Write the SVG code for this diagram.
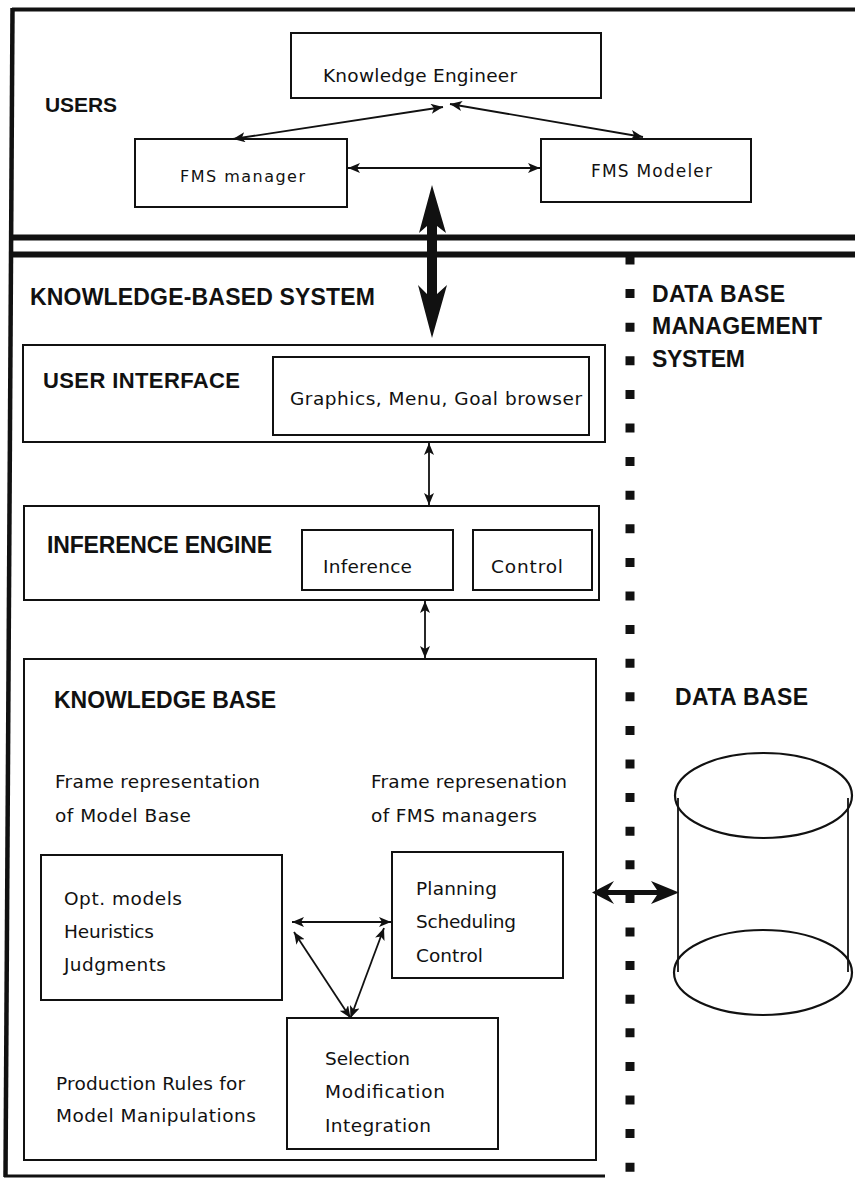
<svg xmlns="http://www.w3.org/2000/svg" width="855" height="1178" viewBox="0 0 855 1178">
<style>
.box{fill:none;stroke:#111;stroke-width:2}
.t{font-family:"DejaVu Sans","Liberation Sans",sans-serif;font-size:18.5px;fill:#111}
.h{font-family:"Liberation Sans",Arial,sans-serif;font-weight:bold;font-size:23px;fill:#111}
.c{fill:none;stroke:#111;stroke-width:1.8}
.frame{fill:none;stroke:#111}
</style>
<defs>
<marker id="ah" viewBox="0 0 12 10" refX="12" refY="5" markerWidth="12" markerHeight="10" markerUnits="userSpaceOnUse" orient="auto-start-reverse">
<path d="M0,0 L12,5 L0,10 L3,5 Z" fill="#111"/>
</marker>
</defs>
<rect width="855" height="1178" fill="#fff"/>

<g id="frame">
<path class="frame" d="M12,9.5 H855" stroke-width="4"/>
<path class="frame" d="M12.5,8 L5.5,1177" stroke-width="4.5"/>
<path class="frame" d="M10,237.5 H855" stroke-width="6"/>
<path class="frame" d="M9,254.5 H855" stroke-width="6"/>
<path class="frame" d="M4,1176 H605" stroke-width="3"/>
</g>

<g id="dbms-divider">
<line x1="630" y1="255.5" x2="630" y2="1178" stroke="#111" stroke-width="9" stroke-dasharray="9 24.6"/>
</g>

<g id="labels">
<text class="h" x="45" y="112" style="font-size:21px" textLength="72">USERS</text>
<text class="h" x="30" y="305" textLength="345">KNOWLEDGE-BASED SYSTEM</text>
<text class="h" x="652" y="302" textLength="133">DATA BASE</text>
<text class="h" x="652" y="334" textLength="170">MANAGEMENT</text>
<text class="h" x="652" y="367" textLength="93">SYSTEM</text>
</g>

<g id="knowledge-engineer">
<rect class="box" x="291" y="33" width="310" height="65"/>
<text class="t" x="323" y="82" textLength="194">Knowledge Engineer</text>
</g>
<g id="fms-manager">
<rect class="box" x="135" y="139" width="212" height="68"/>
<text class="t" x="180" y="182" style="font-size:16px" textLength="125">FMS manager</text>
</g>
<g id="fms-modeler">
<rect class="box" x="541" y="139" width="210" height="63"/>
<text class="t" x="591" y="177" style="font-size:17px" textLength="121">FMS Modeler</text>
</g>

<g id="user-interface">
<rect class="box" x="23" y="345" width="582" height="97"/>
<text class="h" x="43" y="388" style="font-size:22px" textLength="197">USER INTERFACE</text>
<rect class="box" x="273" y="357" width="316" height="78"/>
<text class="t" x="290" y="405" textLength="292">Graphics, Menu,  Goal browser</text>
</g>

<g id="inference-engine">
<rect class="box" x="24" y="506" width="575" height="94"/>
<text class="h" x="47" y="553" textLength="225">INFERENCE ENGINE</text>
<rect class="box" x="302" y="530" width="151" height="60"/>
<text class="t" x="323" y="573" textLength="89">Inference</text>
<rect class="box" x="473" y="530" width="119" height="60"/>
<text class="t" x="491" y="573" textLength="72">Control</text>
</g>

<g id="knowledge-base">
<rect class="box" x="24" y="659" width="572" height="501"/>
<text class="h" x="54" y="708" textLength="222">KNOWLEDGE BASE</text>
<text class="t" x="55" y="788" textLength="205">Frame representation</text>
<text class="t" x="55" y="822" textLength="136">of  Model Base</text>
<text class="t" x="371" y="788" textLength="196">Frame represenation</text>
<text class="t" x="371" y="822" textLength="166">of  FMS managers</text>
<text class="t" x="56" y="1090" textLength="189">Production Rules for</text>
<text class="t" x="56" y="1122" textLength="200">Model Manipulations</text>
</g>
<g id="model-base">
<rect class="box" x="41" y="855" width="241" height="145"/>
<text class="t" x="64" y="905" textLength="118">Opt.  models</text>
<text class="t" x="64" y="938" textLength="90">Heuristics</text>
<text class="t" x="64" y="971" textLength="102">Judgments</text>
</g>
<g id="fms-managers">
<rect class="box" x="392" y="852" width="171" height="126"/>
<text class="t" x="416" y="895" textLength="81">Planning</text>
<text class="t" x="416" y="928" textLength="100">Scheduling</text>
<text class="t" x="416" y="962" textLength="67">Control</text>
</g>
<g id="production-rules">
<rect class="box" x="287" y="1018" width="211" height="131"/>
<text class="t" x="325" y="1065" textLength="85">Selection</text>
<text class="t" x="325" y="1098" textLength="120">Modification</text>
<text class="t" x="325" y="1132" textLength="106">Integration</text>
</g>

<g id="data-base">
<text class="h" x="675" y="705" textLength="133">DATA BASE</text>
<line x1="678" y1="798" x2="678" y2="972" stroke="#111" stroke-width="1.8"/>
<line x1="848" y1="798" x2="848" y2="972" stroke="#111" stroke-width="1.8"/>
<ellipse cx="763.5" cy="795.5" rx="88.5" ry="42.5" fill="none" stroke="#111" stroke-width="2.2"/>
<ellipse cx="763" cy="972.5" rx="89" ry="42.5" fill="none" stroke="#111" stroke-width="2.2"/>
</g>

<g id="connectors">
<line class="c" x1="233" y1="139" x2="443" y2="107" marker-start="url(#ah)" marker-end="url(#ah)"/>
<line class="c" x1="450" y1="104" x2="643" y2="137" marker-start="url(#ah)" marker-end="url(#ah)"/>
<line class="c" x1="348" y1="168" x2="540" y2="168" marker-start="url(#ah)" marker-end="url(#ah)"/>
<path d="M432,185 L446,233 L437,226 L437,294 L447,285 L432,338 L418,285 L427,294 L427,226 L419,233 Z" fill="#111"/>
<line class="c" x1="429" y1="443" x2="429" y2="505" marker-start="url(#ah)" marker-end="url(#ah)"/>
<line class="c" x1="425" y1="601" x2="425" y2="658" marker-start="url(#ah)" marker-end="url(#ah)"/>
<line class="c" x1="292" y1="922" x2="391" y2="922" marker-start="url(#ah)" marker-end="url(#ah)"/>
<line class="c" x1="294" y1="932" x2="350.5" y2="1018" marker-start="url(#ah)" marker-end="url(#ah)"/>
<line class="c" x1="384" y1="928" x2="350.5" y2="1018" marker-start="url(#ah)" marker-end="url(#ah)"/>
<path d="M592,892.5 L614,881 L608,890 L657,890 L651,881 L679,892.5 L651,904 L657,895 L608,895 L614,904 Z" fill="#111"/>
</g>
</svg>
